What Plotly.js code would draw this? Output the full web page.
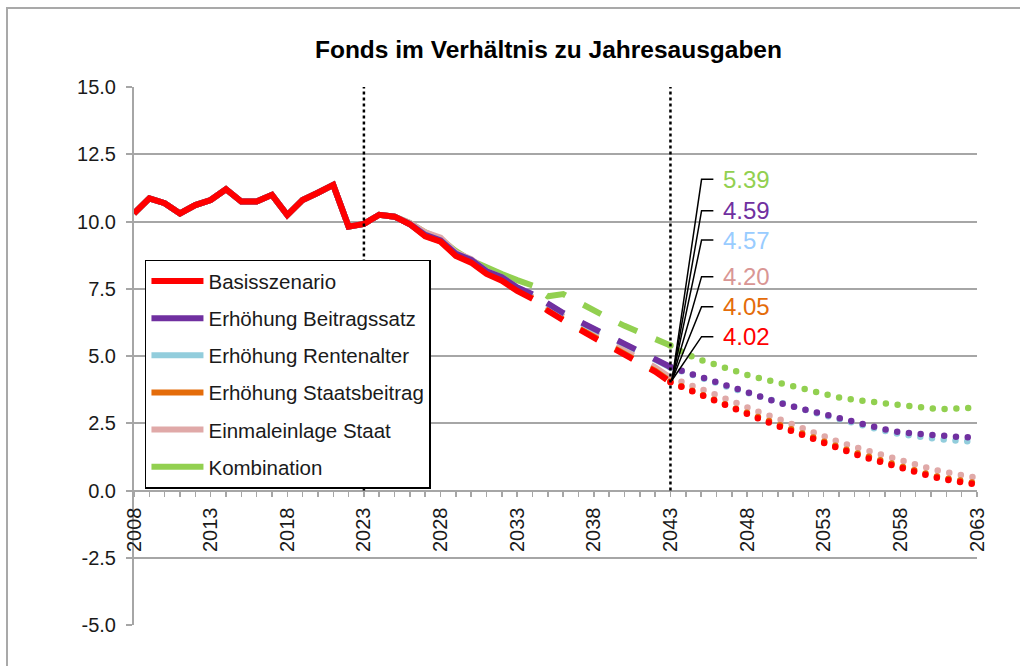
<!DOCTYPE html>
<html><head><meta charset="utf-8">
<script src="https://cdn.plot.ly/plotly-3.0.1.min.js"></script>
<style>
html,body{margin:0;padding:0;background:#fff;overflow:hidden}
#chart{width:1020px;height:666px}
#frame{position:absolute;left:6px;top:7px;width:1100px;height:800px;border-left:2px solid #a9a9a9;border-top:2px solid #a9a9a9;pointer-events:none}
</style></head><body>
<div id="chart"></div><div id="frame"></div>
<script>
// ---------------- DATA ----------------
const years = [2008,2009,2010,2011,2012,2013,2014,2015,2016,2017,2018,2019,2020,2021,2022,2023,2024,2025,
  2026,2027,2028,2029,2030,2031,2032,2033,2034,2035,2036,2037,2038,2039,2040,2041,2042,2043,
  2044,2045,2046,2047,2048,2049,2050,2051,2052,2053,2054,2055,2056,2057,2058,2059,2060,2061,2062,2063];

// common history 2008-2025
const historyCommon = [10.30,10.86,10.68,10.30,10.61,10.80,11.20,10.74,10.74,10.99,10.24,10.80,11.07,11.36,9.81,9.91,10.25,10.18];

// projections 2026-2063
const basisszenario = [9.90,9.45,9.25,8.72,8.47,8.05,7.80,7.42,7.12,
  6.68,6.33,5.98,5.68,5.37,5.07,4.76,4.42,4.02,
  3.78,3.53,3.28,3.05,2.83,2.62,2.40,2.18,1.96,1.76,
  1.56,1.36,1.18,1.00,0.82,0.66,0.52,0.40,0.30,0.22];
const beitragssatz = [9.90,9.50,9.30,8.80,8.57,8.15,7.93,7.55,7.30,
  6.93,6.60,6.30,6.00,5.72,5.45,5.17,4.88,4.59,
  4.40,4.20,4.00,3.80,3.62,3.45,3.28,3.12,2.97,2.82,
  2.67,2.52,2.40,2.27,2.16,2.10,2.04,2.00,1.98,1.98];
const rentenalter = [9.90,9.50,9.30,8.80,8.57,8.15,7.93,7.55,7.28,
  6.91,6.58,6.28,5.98,5.70,5.43,5.15,4.86,4.57,
  4.40,4.20,4.00,3.80,3.62,3.45,3.28,3.12,2.96,2.80,
  2.64,2.48,2.35,2.21,2.09,2.00,1.93,1.88,1.84,1.82];
const staatsbeitrag = [9.90,9.47,9.27,8.74,8.50,8.08,7.83,7.45,7.15,
  6.71,6.36,6.01,5.71,5.40,5.10,4.79,4.45,4.05,
  3.83,3.58,3.33,3.10,2.88,2.67,2.45,2.23,2.01,1.81,
  1.61,1.41,1.23,1.05,0.87,0.71,0.57,0.45,0.35,0.27];
const einmaleinlage = [9.95,9.60,9.40,8.85,8.60,8.15,7.90,7.50,7.20,
  6.80,6.47,6.13,5.83,5.52,5.22,4.90,4.58,4.20,
  4.00,3.77,3.55,3.32,3.08,2.87,2.67,2.45,2.20,2.00,
  1.80,1.62,1.45,1.27,1.10,0.95,0.80,0.68,0.56,0.47];
const kombination = [9.95,9.60,9.35,8.90,8.55,8.27,8.05,7.82,7.62,
  7.22,7.30,6.98,6.67,6.40,6.12,5.88,5.63,5.39,
  5.08,4.85,4.65,4.47,4.30,4.15,4.00,3.85,3.72,3.58,
  3.46,3.37,3.30,3.22,3.15,3.10,3.05,3.03,3.04,3.08];

const seriesNames = ['Basisszenario','Erhöhung Beitragssatz','Erhöhung Rentenalter','Erhöhung Staatsbeitrag','Einmaleinlage Staat','Kombination'];
const seriesValues = [basisszenario, beitragssatz, rentenalter, staatsbeitrag, einmaleinlage, kombination];
const xTickYears = [2008,2013,2018,2023,2028,2033,2038,2043,2048,2053,2058,2063];
const yTickVals = [-5,-2.5,0,2.5,5,7.5,10,12.5,15];
const yTickText = ['-5.0','-2.5','0.0','2.5','5.0','7.5','10.0','12.5','15.0'];
const markerYears = [2023, 2043];
const solidEndYear = 2034, dashEndYear = 2043, labelYear = 2043;

// ---------------- STYLE ----------------
const colors = ['#FF0000','#7030A0','#92CDDC','#E46C0A','#E0A9A8','#92D050'];
const labelColors = ['#FF0000','#7030A0','#99CCFF','#E46C0A','#D99694','#92D050'];
// label box vertical positions (layout, in y-axis units), per series
const labelPosY = [5.72, 10.40, 9.31, 6.83, 7.95, 11.57];
const FONT = 'Liberation Sans, Arial, sans-serif';

const iSolidEnd = years.indexOf(solidEndYear);
const iDashEnd = years.indexOf(dashEndYear);

const traces = [];
const kinds = [];
// drawing order: Kombination first ... Basisszenario last (on top)
for (let s = seriesNames.length - 1; s >= 0; s--) {
  const full = historyCommon.concat(seriesValues[s]);
  const grp = 'g' + s;
  traces.push({x: years.slice(0, iSolidEnd + 1), y: full.slice(0, iSolidEnd + 1), mode:'lines', name: seriesNames[s],
    legendgroup: grp, legendrank: s + 1, line:{color: colors[s], width:6}, hoverinfo:'skip'});
  kinds.push('solid');
  traces.push({x: years.slice(iSolidEnd, iDashEnd + 1), y: full.slice(iSolidEnd, iDashEnd + 1), mode:'lines', name: seriesNames[s],
    legendgroup: grp, showlegend:false, line:{color: colors[s], width:6, dash:'0px,17px,20px,3px'}, hoverinfo:'skip'});
  kinds.push('dash');
  traces.push({x: years.slice(iDashEnd), y: full.slice(iDashEnd), mode:'lines', name: seriesNames[s],
    legendgroup: grp, showlegend:false, line:{color: colors[s], width:6.5, dash:'0px,11.8px'}, hoverinfo:'skip'});
  kinds.push('dot');
}

const shapes = markerYears.map(yr => ({type:'line', xref:'x', yref:'y', x0: yr, x1: yr, y0: 0, y1: 15,
  line:{color:'#000', width:2.5, dash:'dot'}, layer:'above'}));

const annotations = [];
const tip = {x: 2043.1, y: 4.1};
const iLabel = years.indexOf(labelYear);
seriesNames.forEach((n, s) => {
  const v = historyCommon.concat(seriesValues[s])[iLabel];
  const ly = labelPosY[s];
  shapes.push({type:'path', xref:'x', yref:'y', path: `M ${tip.x},${tip.y} L 2045.03,${ly} L 2045.8,${ly}`,
    line:{color:'#000', width:1.5}, layer:'above'});
  annotations.push({x: 2046.3, y: ly, xref:'x', yref:'y', text: v.toFixed(2), showarrow:false,
    xanchor:'left', yanchor:'middle', font:{family: FONT, size:24, color: labelColors[s]}});
});

const layout = {
  width:1020, height:666,
  margin:{l:134, r:43, t:87, b:41},
  paper_bgcolor:'#fff', plot_bgcolor:'#fff',
  title:{text:'Fonds im Verhältnis zu Jahresausgaben', x:0.5377, xref:'container', xanchor:'center',
    y:0.926, yref:'container', yanchor:'middle', font:{family: FONT, size:24.5, weight:'bold', color:'#000'}},
  font:{family: FONT, color:'#1a1a1a'},
  showlegend:true,
  legend:{x:0.013, xanchor:'left', y:0.679, yanchor:'top', bgcolor:'#fff', bordercolor:'#000', borderwidth:1.5,
    font:{family: FONT, size:20.5, color:'#1a1a1a'}, itemwidth:52, tracegroupgap:7.5, traceorder:'grouped'},
  xaxis:{range:[2008,2063], anchor:'free', position:0.25, showline:true, linecolor:'#a6a6a6', linewidth:2,
    showgrid:false, zeroline:false, tickmode:'array', tickvals: xTickYears, ticktext: xTickYears.map(String),
    tickangle:-90, ticks:'outside', ticklen:5, tickcolor:'#a6a6a6', tickwidth:1.5, ticklabelstandoff:3,
    tickfont:{family: FONT, size:20, color:'#1a1a1a'},
    minor:{tickmode:'linear', tick0:2008, dtick:1, ticks:'outside', ticklen:5, tickcolor:'#a6a6a6', tickwidth:1.5, showgrid:false}},
  yaxis:{range:[-5,15], tickmode:'array', tickvals: yTickVals, ticktext: yTickText, showgrid:true,
    gridcolor:'#a6a6a6', gridwidth:2, zeroline:false, showline:true, linecolor:'#a6a6a6', linewidth:2,
    ticks:'outside', ticklen:6, tickcolor:'#a6a6a6', tickwidth:2, ticklabelstandoff:6,
    tickfont:{family: FONT, size:20, color:'#1a1a1a'}},
  shapes: shapes,
  annotations: annotations
};

Plotly.newPlot('chart', traces, layout, {staticPlot:true}).then(gd => {
  const groups = gd.querySelectorAll('.scatterlayer .trace');
  groups.forEach((g, i) => {
    if (kinds[i] === 'dot') g.querySelectorAll('path.js-line').forEach(p => { p.style.strokeLinecap = 'round'; });
  });
});
</script>
</body></html>
